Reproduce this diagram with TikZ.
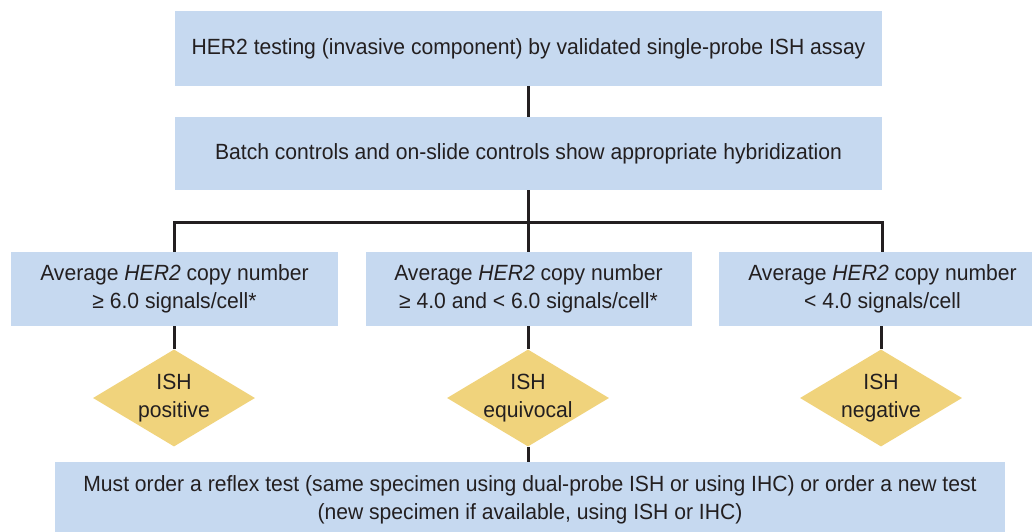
\documentclass[tikz,border=0pt]{standalone}
\usepackage{fontspec}
\setmainfont[FakeStretch=0.96]{Liberation Sans}
\usetikzlibrary{shapes.geometric}
\definecolor{boxblue}{RGB}{198,217,240}
\definecolor{diagold}{RGB}{240,211,124}
\definecolor{inkgray}{RGB}{35,31,32}
\tikzset{
  infobox/.style={rectangle, fill=boxblue, inner sep=0pt, align=center,
    text=inkgray, font=\fontsize{22}{28}\selectfont},
  verdict/.style={diamond, fill=diagold, inner xsep=-30pt, inner ysep=-10pt,
    aspect=1.67, minimum width=162pt, minimum height=97pt,
    align=center, text=inkgray, font=\fontsize{22}{28}\selectfont},
  link/.style={draw=inkgray, line width=3pt, line join=miter}
}
\begin{document}
\begin{tikzpicture}[x=1pt, y=-1pt]
\useasboundingbox (0,0) rectangle (1032,532);

% stacked header boxes
\node[infobox, minimum width=707pt, minimum height=75pt] (top) at (528.5,48.5)
  {HER2 testing (invasive component) by validated single-probe ISH assay};
\node[infobox, minimum width=707pt, minimum height=73pt] (batch) at (528.5,153.5)
  {Batch controls and on-slide controls show appropriate hybridization};

% copy-number categories
\node[infobox, minimum width=327pt, minimum height=74pt] (left) at (174.5,289)
  {Average \textit{HER2} copy number\\≥ 6.0 signals/cell*};
\node[infobox, minimum width=326pt, minimum height=74pt] (mid) at (528.5,289)
  {Average \textit{HER2} copy number\\≥ 4.0 and < 6.0 signals/cell*};
\node[infobox, minimum width=327pt, minimum height=74pt] (right) at (882.5,289)
  {Average \textit{HER2} copy number\\< 4.0 signals/cell};

% results
\node[verdict] (pos) at (174,398) {ISH\\positive};
\node[verdict] (equ) at (528,398) {ISH\\equivocal};
\node[verdict] (neg) at (881,398) {ISH\\negative};

% follow-up for equivocal result
\node[infobox, minimum width=950pt, minimum height=76pt] (reflex) at (530,500)
  {Must order a reflex test (same specimen using dual-probe ISH or using IHC) or order a new test\\
   (new specimen if available, using ISH or IHC)};

\coordinate (split) at (528,222);
\coordinate (lefttop) at (174,252);
\coordinate (righttop) at (882,252);

\draw[link] (528,86) -- (528,117);
\draw[link] (528,190) -- (split);
\draw[link] (lefttop) |- (split) -| (righttop);
\draw[link] (split) -- (528,252);
\draw[link] (174,326) -- (pos.north);
\draw[link] (528,326) -- (equ.north);
\draw[link] (881,326) -- (neg.north);
\draw[link] (equ.south) -- (528,462);
\end{tikzpicture}
\end{document}
